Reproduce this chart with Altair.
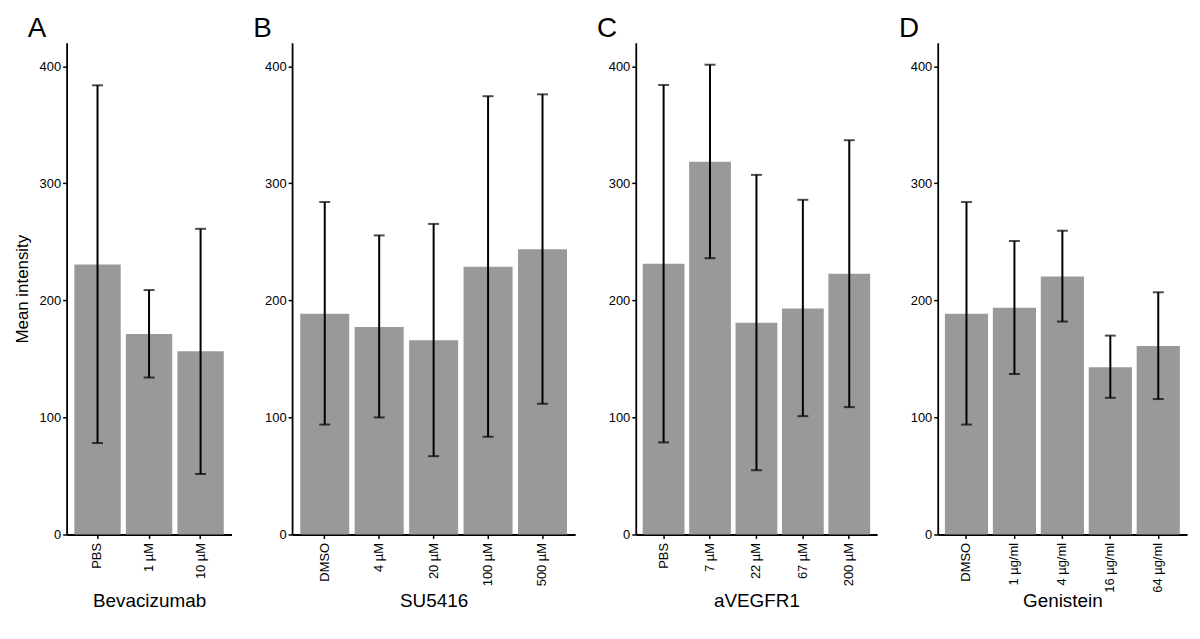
import altair as alt
import pandas as pd

panel_letters = ["A", "B", "C", "D"]
panel_titles = ["Bevacizumab", "SU5416", "aVEGFR1", "Genistein"]

# Panel A: Bevacizumab
bev_cats = ["PBS", "1 µM", "10 µM"]
bev_mean = [230.7, 171.2, 156.5]
bev_low = [78.1, 134.1, 51.7]
bev_high = [383.7, 208.8, 261.1]

# Panel B: SU5416
su_cats = ["DMSO", "4 µM", "20 µM", "100 µM", "500 µM"]
su_mean = [188.5, 177.3, 165.9, 228.8, 243.7]
su_low = [93.9, 100.0, 66.9, 83.5, 111.7]
su_high = [284.0, 255.5, 265.3, 374.4, 376.0]

# Panel C: aVEGFR1
av_cats = ["PBS", "7 µM", "22 µM", "67 µM", "200 µM"]
av_mean = [231.2, 318.4, 180.8, 193.1, 222.7]
av_low = [78.7, 236.0, 54.9, 101.1, 108.8]
av_high = [384.0, 401.3, 307.2, 285.9, 336.8]

# Panel D: Genistein
gen_cats = ["DMSO", "1 µg/ml", "4 µg/ml", "16 µg/ml", "64 µg/ml"]
gen_mean = [188.5, 193.6, 220.3, 142.9, 161.1]
gen_low = [93.9, 137.1, 181.9, 116.8, 115.7]
gen_high = [284.0, 250.7, 259.5, 169.9, 206.9]

y_ticks = [0, 100, 200, 300, 400]

FONT = "Liberation Sans"
PLOT_H = 495


def panel(letter, xtitle, cats, mean, low, high, width, ytitle):
    df = pd.DataFrame({"cat": cats, "mean": mean, "low": low, "high": high})
    x = alt.X(
        "cat:N",
        sort=cats,
        title=xtitle,
        scale=alt.Scale(paddingInner=0.1, paddingOuter=0.15),
        axis=alt.Axis(
            labelAngle=270,
            labelFontSize=13,
            labelFont=FONT,
            labelColor="black",
            labelPadding=4,
            titleFontSize=19,
            titleY=57,
        ),
    )
    yscale = alt.Scale(domain=[0, 420], nice=False, zero=True)
    yaxis = alt.Axis(
        values=y_ticks,
        labelFontSize=13,
        labelFont=FONT,
        labelColor="black",
        titleFontSize=17,
        titlePadding=8,
    )
    base = alt.Chart(df)
    if ytitle:
        yenc = alt.Y("mean:Q", title=ytitle, scale=yscale, axis=yaxis)
    else:
        yenc = alt.Y("mean:Q", title=None, scale=yscale, axis=yaxis)
    bars = base.mark_bar(color="#999999").encode(x=x, y=yenc)
    rule = base.mark_rule(color="black", strokeWidth=2).encode(
        x=alt.X("cat:N", sort=cats), y=alt.Y("low:Q"), y2="high:Q"
    )
    tick_lo = base.mark_tick(color="black", size=11, thickness=2).encode(
        x=alt.X("cat:N", sort=cats), y=alt.Y("low:Q")
    )
    tick_hi = base.mark_tick(color="black", size=11, thickness=2).encode(
        x=alt.X("cat:N", sort=cats), y=alt.Y("high:Q")
    )
    tag = alt.Chart(pd.DataFrame({"t": [letter]})).mark_text(
        align="left", baseline="alphabetic", fontSize=28, font=FONT, color="black"
    ).encode(text="t:N", x=alt.value(-39), y=alt.value(-6))
    return alt.layer(bars, rule, tick_lo, tick_hi, tag).properties(
        width=width, height=PLOT_H
    )


pA = panel(panel_letters[0], panel_titles[0], bev_cats, bev_mean, bev_low, bev_high, 166, "Mean intensity")
pB = panel(panel_letters[1], panel_titles[1], su_cats, su_mean, su_low, su_high, 285, "")
pC = panel(panel_letters[2], panel_titles[2], av_cats, av_mean, av_low, av_high, 243, "")
pD = panel(panel_letters[3], panel_titles[3], gen_cats, gen_mean, gen_low, gen_high, 251, "")

chart = (
    alt.hconcat(pA, pB, pC, pD, spacing=22)
    .configure_view(strokeWidth=0)
    .configure_axis(
        grid=False,
        domainColor="black",
        domainWidth=1.8,
        tickColor="black",
        tickWidth=1.5,
        tickSize=4,
        labelColor="black",
        labelFont=FONT,
        labelFontSize=13,
        titleFont=FONT,
        titleFontWeight="normal",
        titleColor="black",
    )
)

chart.save("out.html", embed_options={"renderer": "svg", "actions": False})
